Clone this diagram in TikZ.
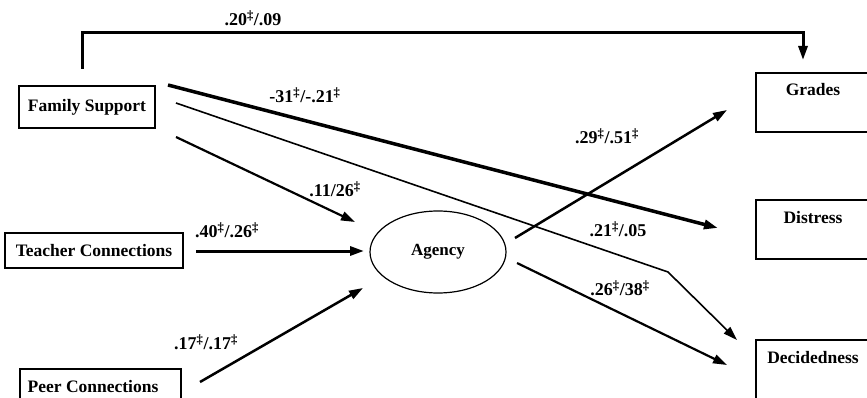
\documentclass[tikz,border=0pt]{standalone}
\usepackage{fontspec}
\setmainfont{Liberation Serif}
\usetikzlibrary{arrows.meta,shapes.geometric}
\newcommand{\sg}{\textsuperscript{‡}}
\begin{document}
\begin{tikzpicture}[x=1pt,y=-1pt,
  box/.style={draw,line width=1.3pt,inner sep=0pt},
  boxtext/.style={font=\fontsize{17.5}{20}\selectfont\bfseries,inner sep=0pt},
  lab/.style={font=\fontsize{18}{20}\selectfont\bfseries,inner sep=0pt},
  arr/.style={-{Triangle[length=14pt,width=9pt]}},
]
\useasboundingbox (0,0) rectangle (867,398);
\clip (0,0) rectangle (867,398);

% boxes
\node[box,boxtext,minimum width=136pt,minimum height=42pt] (fam) at (87,107) {Family Support};
\node[box,boxtext,minimum width=178pt,minimum height=35pt] (teach) at (94,250.5) {Teacher Connections};
\node[box,minimum width=161pt,minimum height=46pt] (peer) at (100.5,392) {};
\node[boxtext] (peertxt) at (93,387) {Peer Connections};
\node[draw,ellipse,line width=1.2pt,minimum width=136pt,minimum height=82pt,inner sep=0pt,
      font=\fontsize{17}{19}\selectfont\bfseries] (agency) at (438,252) {\raisebox{3pt}{Agency}};
\node[box,minimum width=119pt,minimum height=59pt] (grades) at (815.5,102.5) {};
\node[boxtext] (gradestxt) at (813,90) {Grades};
\node[box,minimum width=119pt,minimum height=59pt] (distress) at (815.5,229.5) {};
\node[boxtext] (distresstxt) at (813,218) {Distress};
\node[box,minimum width=119pt,minimum height=65pt] (decid) at (815.5,372.5) {};
\node[boxtext] (decidtxt) at (813,358) {Decidedness};

% connector end points
\coordinate (b0) at (82,69);
\coordinate (b1) at (82,33);
\coordinate (gt) at (803,60);
\coordinate (f1s) at (168,85);
\coordinate (f1e) at (718,228);
\coordinate (f2s) at (176,103);
\coordinate (f2m) at (668,272);
\coordinate (f2e) at (737,340);
\coordinate (f3s) at (176,137);
\coordinate (f3e) at (355,222);
\coordinate (ts) at (196,251);
\coordinate (te) at (364,251);
\coordinate (ps) at (200,382);
\coordinate (pe) at (363,288);
\coordinate (ags) at (515,238);
\coordinate (age) at (727,110);
\coordinate (ads) at (517,263);
\coordinate (ade) at (727,365);

% connectors
\draw[arr,line width=3pt] (b0) -- (b1) -| (gt);
\draw[arr,line width=3.5pt] (f1s) -- (f1e);
\draw[arr,line width=1.6pt] (f2s) -- (f2m) -- (f2e);
\draw[arr,line width=2.2pt] (f3s) -- (f3e);
\draw[arr,line width=3pt] (ts) -- (te);
\draw[arr,line width=2.5pt] (ps) -- (pe);
\draw[arr,line width=2.5pt] (ags) -- (age);
\draw[arr,line width=2.2pt] (ads) -- (ade);

% labels
\node[lab] (l1) at (253,18) {.20\sg/.09};
\node[lab] (l2) at (305,95) {-31\sg/-.21\sg};
\node[lab] (l3) at (335,189) {.11/26\sg};
\node[lab] (l4) at (227,230) {.40\sg/.26\sg};
\node[lab] (l5) at (206,342) {.17\sg/.17\sg};
\node[lab] (l6) at (607,136) {.29\sg/.51\sg};
\node[lab] (l7) at (618,229) {.21\sg/.05};
\node[lab] (l8) at (620,288) {.26\sg/38\sg};
\end{tikzpicture}
\end{document}
